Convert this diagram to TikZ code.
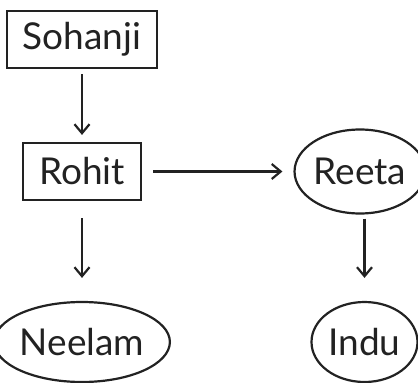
\documentclass[tikz,border=0pt]{standalone}
\usepackage{fontspec}
\setmainfont{Lato}
\usetikzlibrary{arrows.meta,shapes.geometric}
\definecolor{ink}{HTML}{222222}
\tikzset{
  lbl/.style={font=\fontsize{37}{40}\selectfont, text=ink, draw=ink, line width=2.2pt, inner sep=0pt},
  boxnode/.style={lbl, rectangle},
  ovalnode/.style={lbl, ellipse},
  link/.style={draw=ink, line width=2.2pt, -{Straight Barb[length=9pt,width=15pt,line width=2.2pt]}}
}
\begin{document}
\begin{tikzpicture}[x=1pt,y=-1pt]
\useasboundingbox (0,0) rectangle (418,383);
\node[boxnode, minimum width=150pt, minimum height=57pt] (soh) at (82,39.5) {Sohanji};
\node[boxnode, minimum width=118pt, minimum height=57pt] (roh) at (82,171.5) {Rohit};
\node[ovalnode, minimum width=102pt, minimum height=84pt] (ree) at (360,171.5) {Reeta};
\node[ovalnode, minimum width=154pt, minimum height=80pt] (nee) at (82,342) {Neelam};
\node[ovalnode, minimum width=106pt, minimum height=80pt] (ind) at (364.5,342) {Indu};
\draw[link, shorten <=5pt, shorten >=7pt] (soh) -- (roh);
\draw[link, shorten <=11pt, shorten >=11pt] (roh) -- (ree);
\draw[link, shorten <=17pt, shorten >=23pt] (roh) -- (nee);
\draw[link, shorten <=4pt, shorten >=23pt] (ree.south -| ind.north) -- (ind.north);
\end{tikzpicture}
\end{document}
